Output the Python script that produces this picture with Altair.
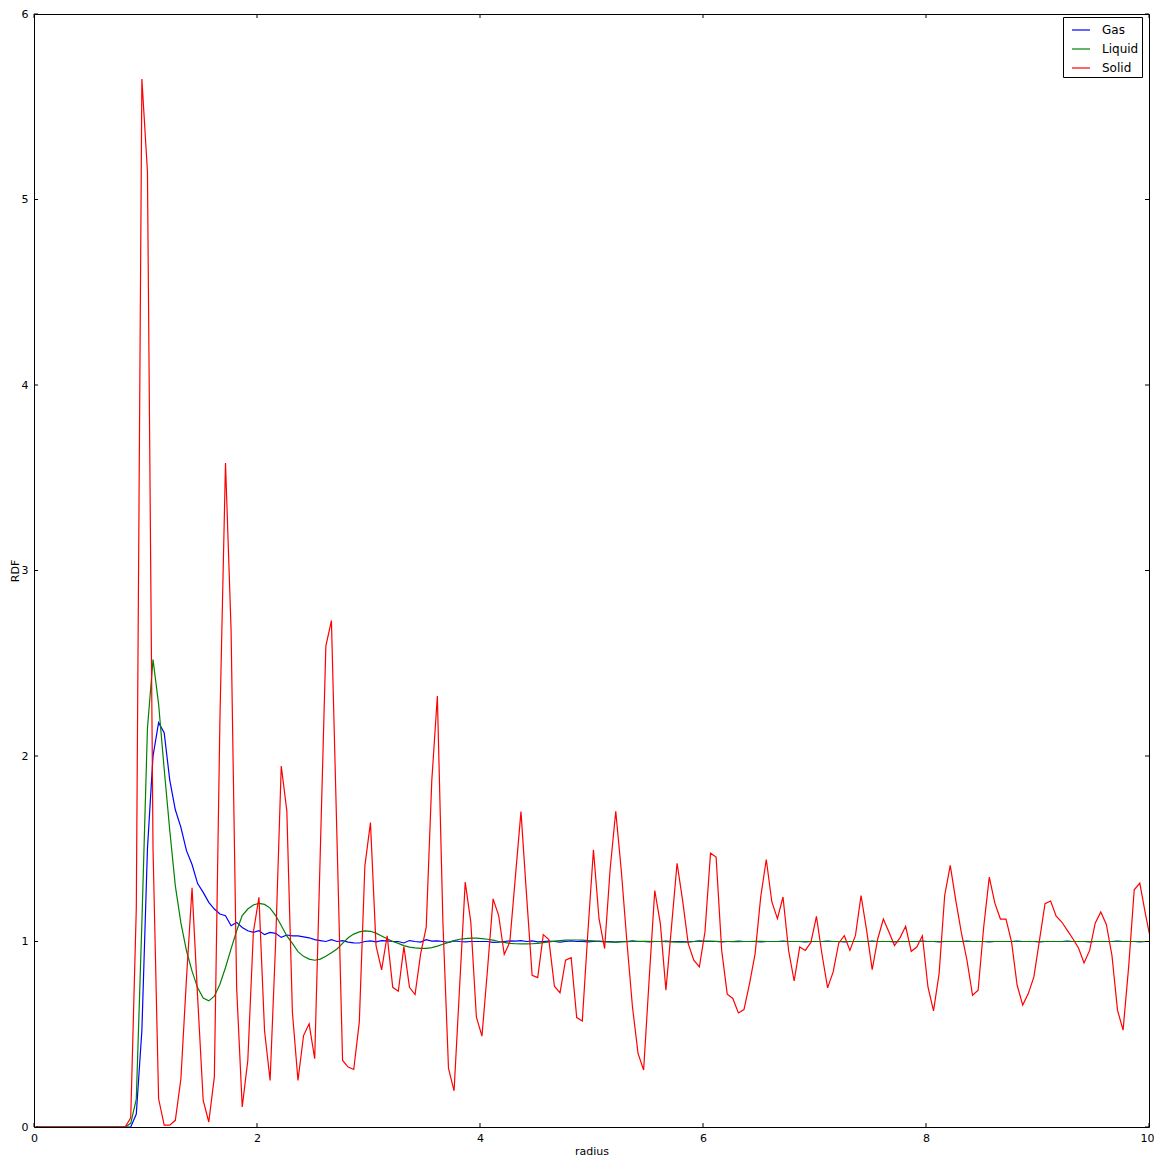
import altair as alt
import pandas as pd

# sampling grid of the RDF histogram (bin centres)
N = 201
radius = [round(0.0175 + 0.05 * k, 4) for k in range(N)]

gas = [
    0, 0, 0, 0, 0, 0, 0, 0, 0, 0,
    0, 0, 0, 0, 0, 0, 0, 0.0, 0.07, 0.52,
    1.5, 2.0, 2.18, 2.126, 1.87, 1.71, 1.615, 1.49, 1.415, 1.312,
    1.265, 1.211, 1.175, 1.148, 1.139, 1.085, 1.103, 1.076, 1.058, 1.049,
    1.058, 1.037, 1.049, 1.044, 1.022, 1.035, 1.03, 1.03, 1.025, 1.02,
    1.01, 1.005, 1.0, 1.01, 1.0, 1.005, 0.997, 0.993, 0.992, 1.0,
    1.003, 0.998, 1.005, 1.003, 1.0, 1.0, 0.992, 1.005, 1.0, 0.997,
    1.01, 1.002, 1.003, 1.0, 0.995, 1.003, 1.0, 0.998, 1.0, 1.0,
    1.0, 1.0, 0.995, 0.997, 1.0, 1.003, 1.002, 1.005, 1.0, 1.003,
    0.998, 1.0, 1.002, 1.0, 0.997, 1.0, 1.003, 1.0, 1.0, 0.998,
    1.0, 1.002, 1.0, 1.0, 0.997, 1.0, 1.0, 1.003, 1.0, 1.0,
    0.998, 1.0, 1.0, 1.002, 1.0, 1.0, 1.0, 0.998, 1.0, 1.003,
    1.0, 1.0, 1.0, 0.998, 1.0, 1.0, 1.002, 1.0, 1.0, 1.0,
    0.998, 1.0, 1.0, 1.0, 1.002, 1.0, 1.0, 1.0, 0.998, 1.0,
    1.0, 1.0, 1.002, 1.0, 1.0, 0.998, 1.0, 1.0, 1.0, 1.0,
    1.002, 1.0, 1.0, 1.0, 0.998, 1.0, 1.0, 1.0, 1.0, 1.002,
    1.0, 1.0, 0.998, 1.0, 1.0, 1.0, 1.0, 1.002, 1.0, 1.0,
    1.0, 0.998, 1.0, 1.0, 1.0, 1.0, 1.002, 1.0, 1.0, 1.0,
    0.998, 1.0, 1.0, 1.0, 1.0, 1.002, 1.0, 1.0, 1.0, 0.998,
    1.0, 1.0, 1.0, 1.0, 1.002, 1.0, 1.0, 1.0, 0.998, 1.0,
    1.0,
]

liquid = [
    0, 0, 0, 0, 0, 0, 0, 0, 0, 0,
    0, 0, 0, 0, 0, 0, 0, 0.02, 0.15, 1.1,
    2.15, 2.52, 2.28, 1.93, 1.6, 1.3, 1.1, 0.95, 0.84, 0.75,
    0.695, 0.68, 0.705, 0.77, 0.86, 0.96, 1.058, 1.14, 1.175, 1.197,
    1.206, 1.2, 1.18, 1.14, 1.086, 1.03, 0.99, 0.945, 0.92, 0.905,
    0.899, 0.905, 0.92, 0.94, 0.96, 0.99, 1.02, 1.04, 1.052, 1.057,
    1.055, 1.045, 1.03, 1.015, 1.0, 0.99, 0.978, 0.97, 0.966, 0.963,
    0.963, 0.967, 0.975, 0.985, 0.995, 1.005, 1.012, 1.016, 1.018, 1.018,
    1.015, 1.012, 1.007, 1.0, 0.995, 0.99, 0.988, 0.987, 0.987, 0.988,
    0.99, 0.994, 0.998, 1.002, 1.005, 1.007, 1.008, 1.008, 1.007, 1.005,
    1.003, 1.0, 0.998, 0.997, 0.997, 0.998, 0.999, 1.0, 1.001, 1.001,
    1.001, 1.0, 1.0, 0.999, 0.998, 0.997, 0.997, 0.998, 1.0, 1.001,
    1.002, 1.002, 1.001, 1.0, 1.0, 0.999, 0.999, 1.0, 1.0, 1.001,
    1.001, 1.0, 1.0, 1.0, 1.0, 1.0, 1.0, 1.0, 1.0, 1.0,
    1.0, 1.0, 1.0, 1.0, 1.0, 1.0, 1.0, 1.0, 1.0, 1.0,
    1.0, 1.0, 1.0, 1.0, 1.0, 1.0, 1.0, 1.0, 1.0, 1.0,
    1.0, 1.0, 1.0, 1.0, 1.0, 1.0, 1.0, 1.0, 1.0, 1.0,
    1.0, 1.0, 1.0, 1.0, 1.0, 1.0, 1.0, 1.0, 1.0, 1.0,
    1.0, 1.0, 1.0, 1.0, 1.0, 1.0, 1.0, 1.0, 1.0, 1.0,
    1.0, 1.0, 1.0, 1.0, 1.0, 1.0, 1.0, 1.0, 1.0, 1.0,
    1.0,
]

solid = [
    0, 0, 0, 0, 0, 0, 0, 0, 0, 0,
    0, 0, 0, 0, 0, 0, 0.0, 0.05, 1.18, 5.65,
    5.15, 1.5, 0.152, 0.01, 0.01, 0.036, 0.26, 0.8, 1.29, 0.7,
    0.143, 0.027, 0.27, 2.2, 3.58, 2.68, 0.75, 0.108, 0.359, 1.05,
    1.238, 0.52, 0.251, 1.0, 1.946, 1.704, 0.619, 0.251, 0.493, 0.556,
    0.368, 1.48, 2.592, 2.73, 1.55, 0.359, 0.323, 0.31, 0.565, 1.408,
    1.641, 0.978, 0.847, 1.031, 0.753, 0.732, 0.972, 0.753, 0.714, 0.933,
    1.076, 1.866, 2.323, 1.1, 0.316, 0.195, 0.76, 1.32, 1.105, 0.594,
    0.49, 0.85, 1.23, 1.14, 0.93, 0.997, 1.35, 1.70, 1.25, 0.818,
    0.805, 1.037, 1.01, 0.759, 0.723, 0.899, 0.913, 0.59, 0.572, 1.05,
    1.494, 1.123, 0.962, 1.392, 1.702, 1.38, 1.0, 0.647, 0.397, 0.307,
    0.8, 1.275, 1.096, 0.737, 1.08, 1.422, 1.22, 0.988, 0.899, 0.863,
    1.051, 1.476, 1.455, 0.952, 0.716, 0.693, 0.615, 0.633, 0.773, 0.935,
    1.24, 1.442, 1.213, 1.123, 1.24, 0.952, 0.787, 0.97, 0.952, 0.995,
    1.135, 0.93, 0.75, 0.836, 0.992, 1.031, 0.952, 1.033, 1.248, 1.06,
    0.848, 1.015, 1.121, 1.051, 0.978, 1.021, 1.082, 0.947, 0.97, 1.031,
    0.755, 0.626, 0.827, 1.248, 1.41, 1.22, 1.046, 0.899, 0.71, 0.737,
    1.078, 1.347, 1.207, 1.121, 1.121, 0.997, 0.764, 0.657, 0.719, 0.809,
    1.006, 1.204, 1.218, 1.137, 1.105, 1.06, 1.015, 0.965, 0.884, 0.952,
    1.099, 1.159, 1.092, 0.926, 0.63, 0.522, 0.863, 1.279, 1.315, 1.15,
    1.0,
]

phases = ["Gas", "Liquid", "Solid"]
colors = ["#0000ff", "#008000", "#ff0000"]
x_ticks = [0, 2, 4, 6, 8, 10]
y_ticks = [0, 1, 2, 3, 4, 5, 6]

assert len(gas) == len(liquid) == len(solid) == len(radius), (len(gas), len(liquid), len(solid))

rows = []
for name, vals in zip(phases, (gas, liquid, solid)):
    for r, v in zip(radius, vals):
        rows.append({"radius": r, "RDF": v, "phase": name})
df = pd.DataFrame(rows)

W = 1115
H = 1113
FONT = "DejaVu Sans"

x_scale = alt.Scale(domain=[0, 10], nice=False, zero=False)
y_scale = alt.Scale(domain=[0, 6], nice=False, zero=False)

x_axis = alt.Axis(title="radius", values=x_ticks, format="d",
                  labelPadding=5, titlePadding=2,
                  labelAlign={"expr": "datum.value == 10 ? 'right' : 'center'"},
                  labelOffset={"expr": "datum.value == 10 ? 5 : 0"})
y_axis = alt.Axis(title="RDF", values=y_ticks, format="d",
                  labelPadding=6, titlePadding=1)

lines = alt.Chart(df).mark_line(strokeWidth=1.2, clip=True).encode(
    x=alt.X("radius:Q", scale=x_scale, axis=x_axis, title="radius"),
    y=alt.Y("RDF:Q", scale=y_scale, axis=y_axis, title="RDF"),
    color=alt.Color("phase:N",
                    scale=alt.Scale(domain=phases, range=colors),
                    legend=alt.Legend(title=None, orient="none",
                                      legendX=1029, legendY=3,
                                      strokeColor="black", fillColor="white",
                                      padding=3, symbolType="stroke",
                                      symbolSize=324, symbolStrokeWidth=1.2,
                                      labelFont=FONT, labelFontSize=12,
                                      labelColor="black", rowPadding=3,
                                      labelOffset=11, symbolOffset=5)),
    detail="phase:N",
)

xt = pd.DataFrame({"radius": x_ticks})
yt = pd.DataFrame({"RDF": y_ticks})

tick_bottom = alt.Chart(xt).mark_rule(color="black", strokeWidth=1).encode(
    x=alt.X("radius:Q", scale=x_scale, axis=x_axis, title="radius"),
    y=alt.value(H), y2=alt.value(H - 4))
tick_top = alt.Chart(xt).mark_rule(color="black", strokeWidth=1).encode(
    x=alt.X("radius:Q", scale=x_scale, axis=x_axis, title="radius"),
    y=alt.value(0), y2=alt.value(4))
tick_left = alt.Chart(yt).mark_rule(color="black", strokeWidth=1).encode(
    y=alt.Y("RDF:Q", scale=y_scale, axis=y_axis, title="RDF"),
    x=alt.value(0), x2=alt.value(4))
tick_right = alt.Chart(yt).mark_rule(color="black", strokeWidth=1).encode(
    y=alt.Y("RDF:Q", scale=y_scale, axis=y_axis, title="RDF"),
    x=alt.value(W - 4), x2=alt.value(W))

chart = alt.layer(lines, tick_bottom, tick_top, tick_left, tick_right).properties(
    width=W, height=H,
    autosize=alt.AutoSizeParams(type="none"),
    padding={"left": 26, "top": 6, "right": 5, "bottom": 40},
    background="white",
).configure_view(
    stroke="black", strokeWidth=1
).configure_axis(
    grid=False, domain=False, ticks=False,
    labelFont=FONT, labelFontSize=11, labelColor="black",
    titleFont=FONT, titleFontSize=11, titleFontWeight="normal", titleColor="black",
    labelFlush=False, labelOverlap=False,
)

chart.save("out.html", embed_options={"renderer": "svg", "actions": False})
